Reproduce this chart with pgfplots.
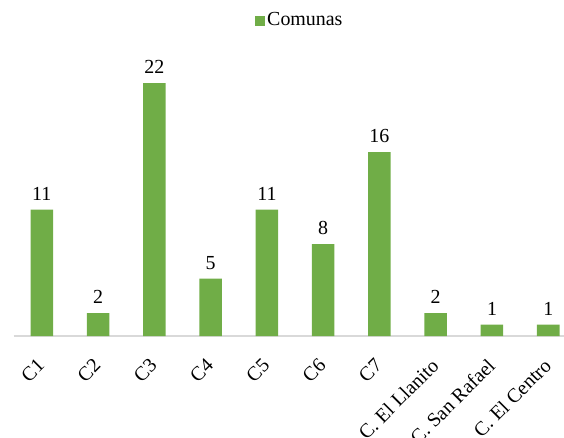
\documentclass[border=0pt]{standalone}
\usepackage{pgfplots}
\pgfplotsset{compat=1.18}
\usepackage{fontspec}
\setmainfont{Liberation Serif}
\definecolor{barg}{HTML}{70AD47}
\definecolor{basel}{HTML}{D9D9D9}
\begin{document}
\begin{tikzpicture}
\fontsize{20}{24}\selectfont
\begin{axis}[
  at={(0,0)}, anchor=south west,
  scale only axis,
  width=550.3bp, height=296bp,
  xmin=-0.5, xmax=9.28,
  ymin=0, ymax=25.74,
  /pgf/number format/assume math mode=true,
  axis x line=bottom, axis y line=none,
  x axis line style={-, draw=basel, line width=1.2pt},
  xtick=data,
  xticklabels={C1,C2,C3,C4,C5,C6,C7,C. El Llanito,C. San Rafael,C. El Centro},
  major tick length=0pt,
  xticklabel style={rotate=45, anchor=north east, font=\fontsize{20}{24}\selectfont, inner sep=1bp, xshift=-18bp, yshift=-10bp},
  ytick=\empty,
  ybar, bar width=0.4,
  bar shift=0pt,
  nodes near coords,
  every node near coord/.append style={font=\fontsize{20}{24}\selectfont, text=black, inner sep=2bp, yshift=7bp},
  legend style={at={(0.52,1)}, anchor=south, yshift=9bp, draw=none, fill=none, font=\fontsize{20}{24}\selectfont, inner sep=0pt},
  legend image code/.code={\fill[barg] (0bp,-5bp) rectangle (10bp,5bp);},
  clip=false,
]
\addplot[fill=barg, draw=none] coordinates {
 (0,11) (1,2) (2,22) (3,5) (4,11) (5,8) (6,16) (7,2) (8,1) (9,1)};
\addlegendentry{Comunas}
\end{axis}
\pgfresetboundingbox
\path[use as bounding box] (-13.7bp,-102bp) rectangle (550.3bp,336bp);
\end{tikzpicture}
\end{document}
